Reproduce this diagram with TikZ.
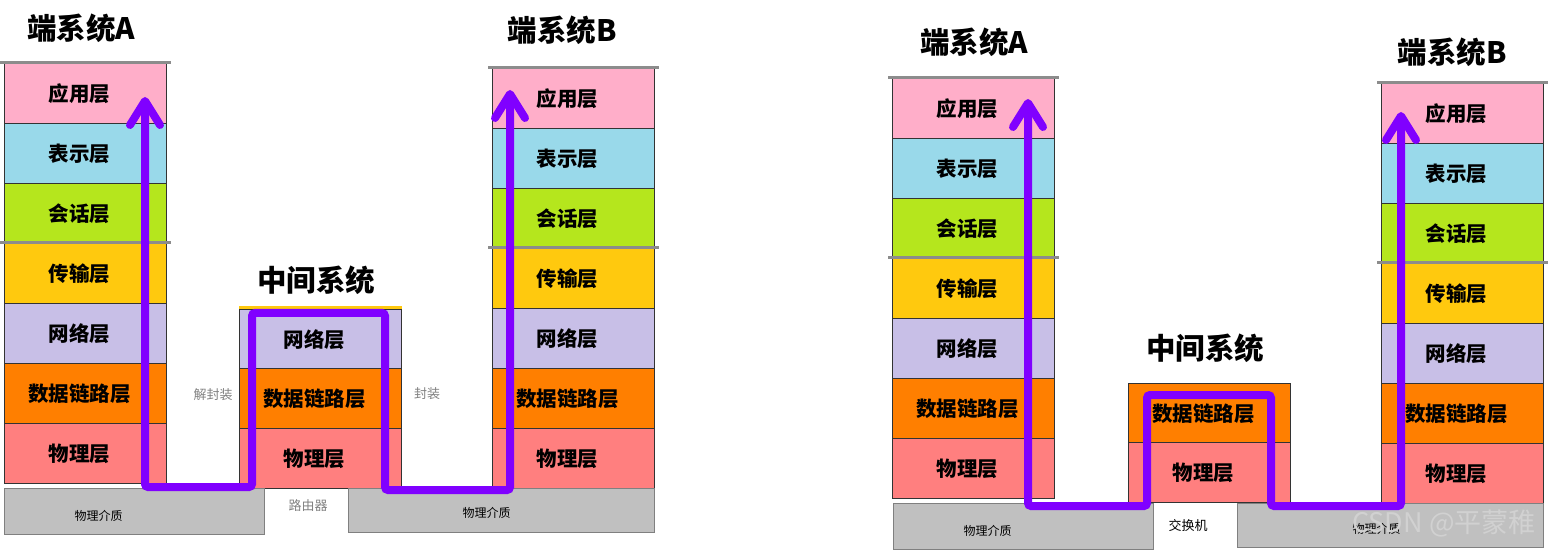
\documentclass[tikz,border=0pt]{standalone}
\usepackage{fontspec}
\newfontfamily\cjk{Noto Sans CJK SC}
\usetikzlibrary{arrows.meta}

\definecolor{apppink}{HTML}{FFAEC9}
\definecolor{presblue}{HTML}{99D9EA}
\definecolor{sessgreen}{HTML}{B5E61D}
\definecolor{transyellow}{HTML}{FFC90E}
\definecolor{netlilac}{HTML}{C8BFE7}
\definecolor{linkorange}{HTML}{FF7F00}
\definecolor{physred}{HTML}{FF7F7F}
\definecolor{mediumgray}{HTML}{C0C0C0}
\definecolor{sepgray}{HTML}{8C8C8C}
\definecolor{routepurple}{HTML}{8000FF}

\tikzset{
	layer/.style={draw=black!80, line width=0.8pt, anchor=north west, inner sep=0pt,
			minimum width=162pt, minimum height=60pt, font=\cjk\bfseries\fontsize{20.5}{24}\selectfont,
			execute at begin node={\hspace*{-12pt}}},
	systitle/.style={font=\cjk\bfseries\fontsize{29.5}{34}\selectfont},
	medium/.style={draw=gray, fill=mediumgray, line width=1pt, anchor=north west, inner sep=0pt},
	mediumtext/.style={font=\cjk\fontsize{12}{14}\selectfont},
	note/.style={text=gray, font=\cjk\fontsize{13}{15}\selectfont},
	sepline/.style={draw=sepgray, line width=3pt},
	route/.style={draw=routepurple, line width=8pt, rounded corners=3pt,
			>={Straight Barb[length=24pt, width=30pt, round]}, <->},
}

\begin{document}
\begin{tikzpicture}[x=1pt, y=-1pt]
	\useasboundingbox (0,0) rectangle (1548,553);

	\foreach \s/\x/\y in {A/4/63, B/492/68, C/892/78, D/1381/83} {
			\foreach \lbl/\col [count=\i] in {应用层/apppink, 表示层/presblue, 会话层/sessgreen, 传输层/transyellow, 网络层/netlilac, 数据链路层/linkorange, 物理层/physred} {
					\node[layer, fill=\col] (\s\i) at (\x,\y+60*\i-60) {\lbl};
				}
			\draw[sepline] ([xshift=-4pt]\s1.north west) -- ([xshift=4pt]\s1.north east);
			\draw[sepline] ([xshift=-4pt]\s4.north west) -- ([xshift=4pt]\s4.north east);
		}

	\foreach \lbl/\col [count=\i] in {网络层/netlilac, 数据链路层/linkorange, 物理层/physred} {
			\node[layer, fill=\col] (R\i) at (239,309+59.5*\i-59.5) {\lbl};
		}
	\fill[transyellow] ([yshift=2.5pt]R1.north west) rectangle (R1.north east);

	\foreach \lbl/\col [count=\i] in {数据链路层/linkorange, 物理层/physred} {
			\node[layer, fill=\col] (S\i) at (1128,383+59*\i-59) {\lbl};
		}

	\node[systitle] (titleA) at (81,28) {端系统A};
	\node[systitle] (titleB) at (562,30) {端系统B};
	\node[systitle] (titleR) at (316,280) {中间系统};
	\node[systitle] (titleC) at (974,42) {端系统A};
	\node[systitle] (titleS) at (1205,348) {中间系统};
	\node[systitle] (titleD) at (1452,52) {端系统B};

	\node[medium, minimum width=260pt, minimum height=46pt, label={[mediumtext, xshift=-36pt, yshift=-4pt]center:物理介质}] (M1) at (4,488) {};
	\node[medium, minimum width=306pt, minimum height=44pt, label={[mediumtext, xshift=-15pt, yshift=-2pt]center:物理介质}] (M2) at (348,488) {};
	\node[medium, minimum width=260pt, minimum height=46pt, label={[mediumtext, xshift=-36pt, yshift=-4pt]center:物理介质}] (M3) at (893,503) {};
	\node[medium, minimum width=306pt, minimum height=44pt, label={[mediumtext, xshift=-14pt, yshift=-3pt]center:物理介质}] (M4) at (1237,503) {};

	\node[note] (unwrap) at (213,395) {解封装};
	\node[note] (wrap) at (427,394) {封装};
	\node[note] (router) at (308,506) {路由器};
	\node[note, text=black] (switch) at (1188,526) {交换机};

	\coordinate (a0) at (145,97);
	\coordinate (a1) at (145,487);
	\coordinate (a2) at (252,487);
	\coordinate (a3) at (252,313);
	\coordinate (a4) at (385,313);
	\coordinate (a5) at (385,490);
	\coordinate (a6) at (510,490);
	\coordinate (a7) at (510,90);
	\draw[route] (a0) -- (a1) -- (a2) -- (a3) -- (a4) -- (a5) -- (a6) -- (a7);

	\coordinate (b0) at (1028,99);
	\coordinate (b1) at (1028,506);
	\coordinate (b2) at (1147,506);
	\coordinate (b3) at (1147,395);
	\coordinate (b4) at (1271,395);
	\coordinate (b5) at (1271,506);
	\coordinate (b6) at (1401,506);
	\coordinate (b7) at (1401,112);
	\draw[route] (b0) -- (b1) -- (b2) -- (b3) -- (b4) -- (b5) -- (b6) -- (b7);

	\node[font=\cjk\fontsize{27}{30}\selectfont, text=white!82!black] (mark) at (1444,523) {CSDN @平蒙稚};
\end{tikzpicture}
\end{document}
